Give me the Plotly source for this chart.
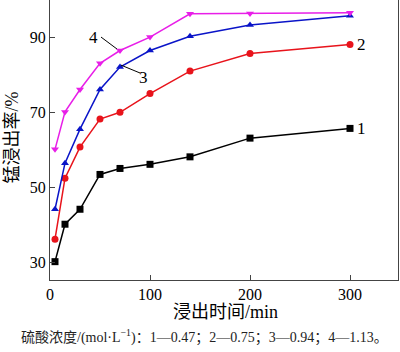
import plotly.graph_objects as go

time_min = [5, 15, 30, 50, 70, 100, 140, 200, 300]
s1 = [30.1, 40.1, 44.1, 53.4, 55.0, 56.1, 58.1, 63.1, 65.7]
s2 = [36.1, 52.4, 60.7, 68.2, 70.0, 75.0, 81.0, 85.7, 88.1]
s3 = [44.1, 56.4, 65.5, 76.1, 82.1, 86.5, 90.3, 93.3, 95.8]
s4 = [60.1, 70.1, 76.1, 83.1, 86.5, 90.1, 96.3, 96.4, 96.6]
series_labels = ["1", "2", "3", "4"]
x_ticks = [0, 100, 200, 300]
y_ticks = [30, 50, 70, 90]

FONT = "Liberation Serif, Times New Roman, Noto Sans CJK SC"

styles = [
    (s1, "#000000", "square"),
    (s2, "#e8131b", "circle"),
    (s3, "#0a14c8", "triangle-up"),
    (s4, "#e81ee8", "triangle-down"),
]

fig = go.Figure()
for (vals, color, sym), name in zip(styles, series_labels):
    fig.add_trace(go.Scatter(
        x=time_min, y=vals, mode="lines+markers", name=name,
        line=dict(color=color, width=1.5),
        marker=dict(symbol=sym, size=7, color=color),
        showlegend=False,
    ))

lab_font = dict(size=17, color="black", family=FONT)
# series labels 1 and 2 at line ends
fig.add_annotation(x=300, y=s1[-1], text="1", showarrow=False, xanchor="left",
                   xshift=5, font=lab_font)
fig.add_annotation(x=300, y=s2[-1], text="2", showarrow=False, xanchor="left",
                   xshift=5, font=lab_font)
# leader lines for labels 3 and 4
fig.add_shape(type="line", xref="x", yref="y", x0=71, y0=82.6, x1=90, y1=80.5,
              line=dict(color="black", width=1))
fig.add_annotation(x=93, y=79.2, text="3", showarrow=False, font=lab_font)
fig.add_shape(type="line", xref="x", yref="y", x0=51, y0=90.1, x1=67, y1=86.9,
              line=dict(color="black", width=1))
fig.add_annotation(x=43, y=90.1, text="4", showarrow=False, font=lab_font)

fig.add_annotation(xref="paper", yref="paper", x=0.505, y=-0.072, xanchor="center",
                   yanchor="top", showarrow=False, text="浸出时间/min",
                   font=dict(size=18, color="black", family=FONT))
fig.add_annotation(xref="paper", yref="paper", x=-0.109, y=0.509, xanchor="center",
                   yanchor="middle", showarrow=False, text="锰浸出率/%", textangle=-90,
                   font=dict(size=18, color="black", family=FONT))
fig.add_annotation(xref="paper", yref="paper", x=0.445, y=-0.16, xanchor="center",
                   yanchor="top", showarrow=False,
                   text="硫酸浓度/(mol·L<sup>−1</sup>)：1—0.47；2—0.75；3—0.94；4—1.13。",
                   font=dict(size=14, color="#222222", family=FONT))

fig.update_layout(
    width=400, height=352,
    margin=dict(l=50, r=2, t=0, b=72),
    paper_bgcolor="white", plot_bgcolor="white",
    font=dict(family=FONT, color="black", size=16),
)
fig.update_xaxes(range=[0, 348], tickvals=x_ticks, ticks="inside", ticklen=5,
                 showline=True, linecolor="#444444", linewidth=1.2, mirror=True,
                 showgrid=False, zeroline=False, tickfont=dict(size=16))
fig.update_yaxes(range=[25.2, 100], tickvals=y_ticks, ticks="inside", ticklen=5,
                 showline=True, linecolor="#444444", linewidth=1.2, mirror=True,
                 showgrid=False, zeroline=False, tickfont=dict(size=16))

fig.write_html("out.html")
